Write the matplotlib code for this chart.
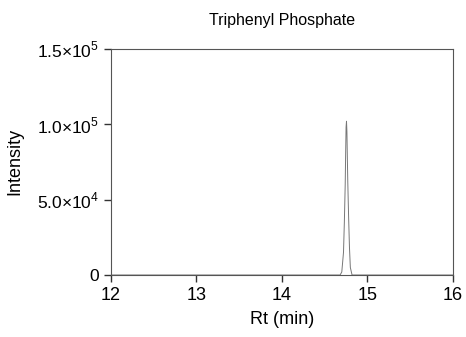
import matplotlib
matplotlib.use("Agg")
import matplotlib.pyplot as plt

plt.rcParams['font.family'] = ['Liberation Sans', 'DejaVu Sans']
plt.rcParams['mathtext.fontset'] = 'custom'
plt.rcParams['mathtext.rm'] = 'Liberation Sans'

title = "Triphenyl Phosphate"
rt = [12.0, 12.5, 13.0, 13.5, 14.0, 14.5, 14.68, 14.70, 14.72, 14.73, 14.74, 14.745,
      14.75, 14.755, 14.76, 14.765, 14.77, 14.78, 14.79, 14.80, 14.82, 15.0, 15.5, 16.0]
intensity = [0, 0, 0, 0, 0, 0, 0, 2000, 15000, 35000, 60000, 80000,
             98000, 102000, 95000, 78000, 62000, 38000, 18000, 5000, 0, 0, 0, 0]
yticks = [0, 50000, 100000, 150000]
ytick_labels = ['0', r'5.0$\times$10$^4$', r'1.0$\times$10$^5$', r'1.5$\times$10$^5$']
xticks = [12, 13, 14, 15, 16]

fig = plt.figure(figsize=(4.66, 3.37), dpi=100)
ax = fig.add_axes([0.238, 0.184, 0.734, 0.671])
ax.plot(rt, intensity, color='#777777', lw=0.7)
ax.set_xlim(12, 16)
ax.set_ylim(0, 150000)
ax.set_xticks(xticks)
ax.set_xticklabels([str(x) for x in xticks], fontsize=13)
ax.set_yticks(yticks)
ax.set_yticklabels(ytick_labels, fontsize=12.5)
ax.tick_params(direction='out', length=5, width=1, color='#333333')
for s in ax.spines.values():
    s.set_color('#555555')
    s.set_linewidth(0.8)
ax.set_xlabel('Rt (min)', fontsize=13, labelpad=5)
ax.set_ylabel('Intensity', fontsize=13, labelpad=10)
fig.text(0.605, 0.94, title, ha='center', va='center', fontsize=11.5)
fig.savefig('out.png', dpi=100)
